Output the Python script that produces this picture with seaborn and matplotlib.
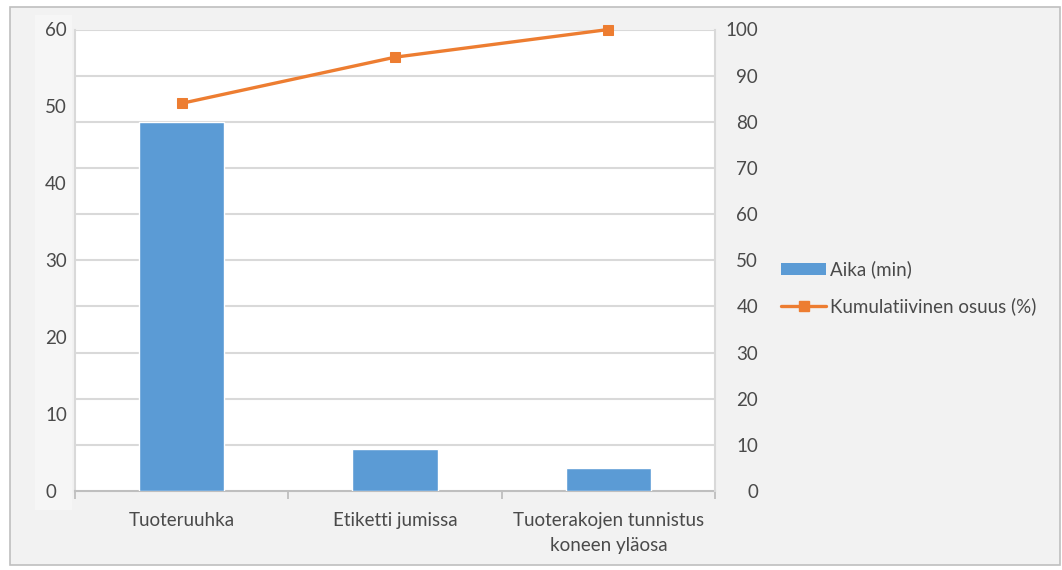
import numpy as np
import pandas as pd
import matplotlib
matplotlib.use("Agg")
import matplotlib.pyplot as plt
from matplotlib.patches import Rectangle
from matplotlib.lines import Line2D
from matplotlib.ticker import MultipleLocator, FixedLocator
import seaborn as sns

# Pareto data: downtime per cause and cumulative share
categories = ["Tuoteruuhka", "Etiketti jumissa", "Tuoterakojen tunnistus\nkoneen yläosa"]
aika_min = [48, 5.5, 3]
kumulatiivinen = [84, 94, 100]

bar_label = "Aika (min)"
line_label = "Kumulatiivinen osuus (%)"

sns.set_theme(style="white")
plt.rcParams["font.family"] = ["Lato", "DejaVu Sans"]

TEXT = "#4a4a4a"
GRID = "#d9d9d9"
BLUE = "#5b9bd5"
ORANGE = "#ed7d31"
FS = 13.5

fig = plt.figure(figsize=(10.62, 5.70), dpi=100, facecolor="white")

# chart area background and frame
fig.patches.append(Rectangle((10 / 1062, 5 / 570), 1050 / 1062, 558 / 570,
                             transform=fig.transFigure, facecolor="#f2f2f2",
                             edgecolor="#bfbfbf", linewidth=1.2, zorder=-10))
fig.patches.append(Rectangle((35 / 1062, 60 / 570), 37 / 1062, 495 / 570,
                             transform=fig.transFigure, facecolor="#f6f6f6",
                             edgecolor="none", zorder=-9))

ax = fig.add_axes([75 / 1062, 79 / 570, 640 / 1062, 461.5 / 570])
ax.set_facecolor("white")
ax2 = ax.twinx()

df = pd.DataFrame({"syy": categories, "aika": aika_min, "kum": kumulatiivinen,
                   "pos": np.arange(len(categories))})

sns.barplot(data=df, x="syy", y="aika", ax=ax, color=BLUE, saturation=1,
            width=0.4, zorder=3)
sns.lineplot(data=df, x="pos", y="kum", ax=ax2, color=ORANGE, linewidth=2.4,
             marker="s", markersize=7.5, markeredgecolor=ORANGE, zorder=4)
for ln in ax2.lines:
    ln.set_clip_on(False)

ax.set_xlim(-0.5, len(categories) - 0.5)
ax.set_ylim(0, 60)
ax2.set_ylim(0, 100)
ax.yaxis.set_major_locator(MultipleLocator(10))
ax2.yaxis.set_major_locator(MultipleLocator(10))

# gridlines follow the percentage axis, drawn on the base axes below the bars
ax.grid(False)
for v in np.arange(10, 101, 10):
    ax.axhline(v * 0.6, color=GRID, linewidth=1.5, zorder=1)
ax2.set_zorder(ax.get_zorder() + 1)
ax2.patch.set_visible(False)

ax.set_xlabel("")
ax.set_ylabel("")
ax2.set_xlabel("")
ax2.set_ylabel("")

for a in (ax, ax2):
    for s in a.spines.values():
        s.set_visible(False)
ax.spines["left"].set_visible(True)
ax.spines["left"].set_color(GRID)
ax.spines["left"].set_linewidth(1.5)
ax2.spines["right"].set_visible(True)
ax2.spines["right"].set_color(GRID)
ax2.spines["right"].set_linewidth(1.5)
ax.spines["bottom"].set_visible(True)
ax.spines["bottom"].set_color("#bfbfbf")
ax.spines["bottom"].set_linewidth(1.5)

# left labels are left-aligned, right labels right-aligned
ax.tick_params(axis="y", length=0, labelsize=FS, labelcolor=TEXT, pad=21.5)
for lbl in ax.get_yticklabels():
    lbl.set_horizontalalignment("left")
ax2.tick_params(axis="y", length=0, labelsize=FS, labelcolor=TEXT, pad=31)
for lbl in ax2.get_yticklabels():
    lbl.set_horizontalalignment("right")
ax.tick_params(axis="x", length=0, labelsize=FS, labelcolor=TEXT, pad=15)
ax.xaxis.set_minor_locator(FixedLocator(np.arange(len(categories) + 1) - 0.5))
ax.tick_params(axis="x", which="minor", length=6, width=1.3, color="#bfbfbf",
               direction="out", bottom=True)
for lbl in ax.get_xticklabels():
    lbl.set_linespacing(1.6)

handles = [Rectangle((0, 0), 1, 1, facecolor=BLUE, edgecolor="none"),
           Line2D([0], [0], color=ORANGE, linewidth=2.4, marker="s",
                  markersize=7.5)]
leg = fig.legend(handles, [bar_label, line_label], loc="center left",
                 bbox_to_anchor=(770 / 1062, 1 - 288 / 570), frameon=False,
                 fontsize=FS, labelcolor=TEXT, handlelength=2.4,
                 handleheight=0.6, handletextpad=0.2, labelspacing=1.0,
                 borderpad=0.1)

fig.savefig("out.png", dpi=100, facecolor="white")
